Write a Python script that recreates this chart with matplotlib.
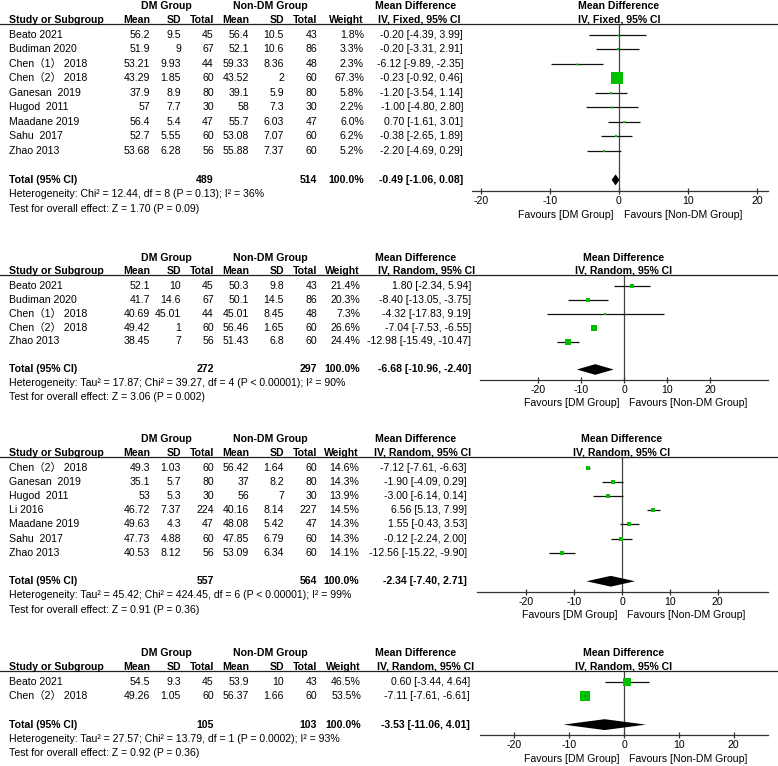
import numpy as np
import matplotlib
matplotlib.use('Agg')
import matplotlib.pyplot as plt
from matplotlib.lines import Line2D
from matplotlib.patches import Polygon
import matplotlib.transforms as mtransforms

plt.rcParams['font.family'] = ['Liberation Sans', 'Noto Sans CJK SC', 'DejaVu Sans']
plt.rcParams['axes.unicode_minus'] = False

### 数据 ###
# panel 1: fixed effect
p1_study = ['Beato 2021', 'Budiman 2020', 'Chen（1） 2018', 'Chen（2） 2018', 'Ganesan  2019',
            'Hugod  2011', 'Maadane 2019', 'Sahu  2017', 'Zhao 2013']
p1_dm_mean = [56.2, 51.9, 53.21, 43.29, 37.9, 57, 56.4, 52.7, 53.68]
p1_dm_sd = [9.5, 9, 9.93, 1.85, 8.9, 7.7, 5.4, 5.55, 6.28]
p1_dm_n = [45, 67, 44, 60, 80, 30, 47, 60, 56]
p1_non_mean = [56.4, 52.1, 59.33, 43.52, 39.1, 58, 55.7, 53.08, 55.88]
p1_non_sd = [10.5, 10.6, 8.36, 2, 5.9, 7.3, 6.03, 7.07, 7.37]
p1_non_n = [43, 86, 48, 60, 80, 30, 47, 60, 60]
p1_weight = [1.8, 3.3, 2.3, 67.3, 5.8, 2.2, 6.0, 6.2, 5.2]
p1_md = [-0.20, -0.20, -6.12, -0.23, -1.20, -1.00, 0.70, -0.38, -2.20]
p1_lo = [-4.39, -3.31, -9.89, -0.92, -3.54, -4.80, -1.61, -2.65, -4.69]
p1_hi = [3.99, 2.91, -2.35, 0.46, 1.14, 2.80, 3.01, 1.89, 0.29]
p1_total = (489, 514, -0.49, -1.06, 0.08)
p1_het = 'Heterogeneity: Chi² = 12.44, df = 8 (P = 0.13); I² = 36%'
p1_test = 'Test for overall effect: Z = 1.70 (P = 0.09)'

# panel 2
p2_study = ['Beato 2021', 'Budiman 2020', 'Chen（1） 2018', 'Chen（2） 2018', 'Zhao 2013']
p2_dm_mean = [52.1, 41.7, 40.69, 49.42, 38.45]
p2_dm_sd = [10, 14.6, 45.01, 1, 7]
p2_dm_n = [45, 67, 44, 60, 56]
p2_non_mean = [50.3, 50.1, 45.01, 56.46, 51.43]
p2_non_sd = [9.8, 14.5, 8.45, 1.65, 6.8]
p2_non_n = [43, 86, 48, 60, 60]
p2_weight = [21.4, 20.3, 7.3, 26.6, 24.4]
p2_md = [1.80, -8.40, -4.32, -7.04, -12.98]
p2_lo = [-2.34, -13.05, -17.83, -7.53, -15.49]
p2_hi = [5.94, -3.75, 9.19, -6.55, -10.47]
p2_total = (272, 297, -6.68, -10.96, -2.40)
p2_het = 'Heterogeneity: Tau² = 17.87; Chi² = 39.27, df = 4 (P < 0.00001); I² = 90%'
p2_test = 'Test for overall effect: Z = 3.06 (P = 0.002)'

# panel 3
p3_study = ['Chen（2） 2018', 'Ganesan  2019', 'Hugod  2011', 'Li 2016', 'Maadane 2019',
            'Sahu  2017', 'Zhao 2013']
p3_dm_mean = [49.3, 35.1, 53, 46.72, 49.63, 47.73, 40.53]
p3_dm_sd = [1.03, 5.7, 5.3, 7.37, 4.3, 4.88, 8.12]
p3_dm_n = [60, 80, 30, 224, 47, 60, 56]
p3_non_mean = [56.42, 37, 56, 40.16, 48.08, 47.85, 53.09]
p3_non_sd = [1.64, 8.2, 7, 8.14, 5.42, 6.79, 6.34]
p3_non_n = [60, 80, 30, 227, 47, 60, 60]
p3_weight = [14.6, 14.3, 13.9, 14.5, 14.3, 14.3, 14.1]
p3_md = [-7.12, -1.90, -3.00, 6.56, 1.55, -0.12, -12.56]
p3_lo = [-7.61, -4.09, -6.14, 5.13, -0.43, -2.24, -15.22]
p3_hi = [-6.63, 0.29, 0.14, 7.99, 3.53, 2.00, -9.90]
p3_total = (557, 564, -2.34, -7.40, 2.71)
p3_het = 'Heterogeneity: Tau² = 45.42; Chi² = 424.45, df = 6 (P < 0.00001); I² = 99%'
p3_test = 'Test for overall effect: Z = 0.91 (P = 0.36)'

# panel 4
p4_study = ['Beato 2021', 'Chen（2） 2018']
p4_dm_mean = [54.5, 49.26]
p4_dm_sd = [9.3, 1.05]
p4_dm_n = [45, 60]
p4_non_mean = [53.9, 56.37]
p4_non_sd = [10, 1.66]
p4_non_n = [43, 60]
p4_weight = [46.5, 53.5]
p4_md = [0.60, -7.11]
p4_lo = [-3.44, -7.61]
p4_hi = [4.64, -6.61]
p4_total = (105, 103, -3.53, -11.06, 4.01)
p4_het = 'Heterogeneity: Tau² = 27.57; Chi² = 13.79, df = 1 (P = 0.0002); I² = 93%'
p4_test = 'Test for overall effect: Z = 0.92 (P = 0.36)'

ticks = [-20, -10, 0, 10, 20]

W, H = 778, 766
fig = plt.figure(figsize=(W / 100, H / 100), dpi=100)

FS = 7.6
GREEN = '#00c000'
# 列位置(像素)
COL = dict(name=9, dm_mean=150, dm_sd=181, dm_n=214, non_mean=249, non_sd=284,
           non_n=317)


def draw_panel(top, step, x0, x1, xlim, method, w_x, md_x, study, dm_mean, dm_sd, dm_n,
               non_mean, non_sd, non_n, weight, md, lo, hi, total, het, test):
    '''
    画一个森林图面板
    '''
    n = len(study)
    h = (n + 2.5) * step
    ax = fig.add_axes([x0 / W, 1 - (top + h) / H, (x1 - x0) / W, h / H])
    ax.set_xlim(*xlim)
    ax.set_ylim(n + 1.75, -0.75)
    ax.patch.set_alpha(0)
    for s in ['top', 'left', 'right']:
        ax.spines[s].set_visible(False)
    ax.spines['bottom'].set_linewidth(0.9)
    ax.spines['bottom'].set_color('#333333')
    ax.set_yticks([])
    ax.set_xticks(ticks)
    ax.tick_params(axis='x', direction='inout', length=5, width=0.9, color='#333333',
                   labelsize=FS, pad=1)
    ax.axvline(0, color='#444444', lw=0.9, zorder=1)

    y = np.arange(n)
    # 置信区间 + 方块
    ax.hlines(y, lo, hi, color='#111111', lw=0.9, zorder=2)
    for yi, m, w in zip(y, md, weight):
        side = 1.5 + 0.16 * w  # 像素
        ax.plot([m], [yi], marker='s', ms=side * 0.72, color=GREEN, mew=0, zorder=3)
    # 合并菱形
    yt = n + 1
    t_dm, t_non, t_md, t_lo, t_hi = total
    dh = 0.38
    ax.add_patch(Polygon([[t_lo, yt], [t_md, yt - dh], [t_hi, yt], [t_md, yt + dh]],
                         closed=True, color='black', lw=0, zorder=3))

    tr = mtransforms.blended_transform_factory(fig.transFigure, ax.transData)

    def put(xpx, yy, s, ha='right', bold=False):
        fig.text(xpx / W, yy, s, transform=tr, ha=ha, va='center', fontsize=FS,
                 fontweight='bold' if bold else 'normal')

    # 表头
    put(166, -2.0, 'DM Group', 'center', True)
    put(270, -2.0, 'Non-DM Group', 'center', True)
    put(416, -2.0, 'Mean Difference', 'center', True)
    put(COL['name'], -1.05, 'Study or Subgroup', 'left', True)
    for key, lab in [('dm_mean', 'Mean'), ('dm_sd', 'SD'), ('dm_n', 'Total'),
                     ('non_mean', 'Mean'), ('non_sd', 'SD'), ('non_n', 'Total')]:
        put(COL[key], -1.05, lab, 'right', True)
    put(w_x, -1.05, 'Weight', 'right', True)
    put(md_x - 44, -1.05, method, 'center', True)
    ax.text(0, -2.0, 'Mean Difference', ha='center', va='center', fontsize=FS,
            fontweight='bold', clip_on=False)
    ax.text(0, -1.05, method, ha='center', va='center', fontsize=FS,
            fontweight='bold', clip_on=False)
    fig.add_artist(Line2D([0, 1], [-0.75, -0.75], transform=tr, color='#222222', lw=0.9))

    # 每行
    for i in range(n):
        put(COL['name'], i, study[i], 'left')
        put(COL['dm_mean'], i, f'{dm_mean[i]:g}')
        put(COL['dm_sd'], i, f'{dm_sd[i]:g}')
        put(COL['dm_n'], i, f'{dm_n[i]}')
        put(COL['non_mean'], i, f'{non_mean[i]:g}')
        put(COL['non_sd'], i, f'{non_sd[i]:g}')
        put(COL['non_n'], i, f'{non_n[i]}')
        put(w_x, i, f'{weight[i]:.1f}%')
        put(md_x, i, f'{md[i]:.2f} [{lo[i]:.2f}, {hi[i]:.2f}]')

    # 合计
    put(COL['name'], yt, 'Total (95% CI)', 'left', True)
    put(COL['dm_n'], yt, f'{t_dm}', bold=True)
    put(COL['non_n'], yt, f'{t_non}', bold=True)
    put(w_x, yt, '100.0%', bold=True)
    put(md_x, yt, f'{t_md:.2f} [{t_lo:.2f}, {t_hi:.2f}]', bold=True)
    put(COL['name'], n + 2, het, 'left')
    put(COL['name'], n + 3, test, 'left')

    # Favours
    left_tr = mtransforms.offset_copy(ax.transData, fig=fig, x=-5, y=0, units='dots')
    right_tr = mtransforms.offset_copy(ax.transData, fig=fig, x=5, y=0, units='dots')
    ax.text(0, n + 3.4, 'Favours [DM Group]', transform=left_tr, ha='right', va='center',
            fontsize=FS, clip_on=False)
    ax.text(0, n + 3.4, 'Favours [Non-DM Group]', transform=right_tr, ha='left',
            va='center', fontsize=FS, clip_on=False)
    return ax


draw_panel(24, 14.5, 472, 768, (-21.3, 21.6), 'IV, Fixed, 95% CI', 364, 463,
           p1_study, p1_dm_mean, p1_dm_sd, p1_dm_n, p1_non_mean, p1_non_sd, p1_non_n,
           p1_weight, p1_md, p1_lo, p1_hi, p1_total, p1_het, p1_test)
draw_panel(275, 14.0, 480, 768, (-33.5, 33.5), 'IV, Random, 95% CI', 360, 471,
           p2_study, p2_dm_mean, p2_dm_sd, p2_dm_n, p2_non_mean, p2_non_sd, p2_non_n,
           p2_weight, p2_md, p2_lo, p2_hi, p2_total, p2_het, p2_test)
draw_panel(457, 14.2, 477, 768, (-30.3, 30.5), 'IV, Random, 95% CI', 359, 467,
           p3_study, p3_dm_mean, p3_dm_sd, p3_dm_n, p3_non_mean, p3_non_sd, p3_non_n,
           p3_weight, p3_md, p3_lo, p3_hi, p3_total, p3_het, p3_test)
draw_panel(671, 14.3, 480, 768, (-26.3, 26.3), 'IV, Random, 95% CI', 361, 470,
           p4_study, p4_dm_mean, p4_dm_sd, p4_dm_n, p4_non_mean, p4_non_sd, p4_non_n,
           p4_weight, p4_md, p4_lo, p4_hi, p4_total, p4_het, p4_test)

plt.savefig('out.png', dpi=100)
